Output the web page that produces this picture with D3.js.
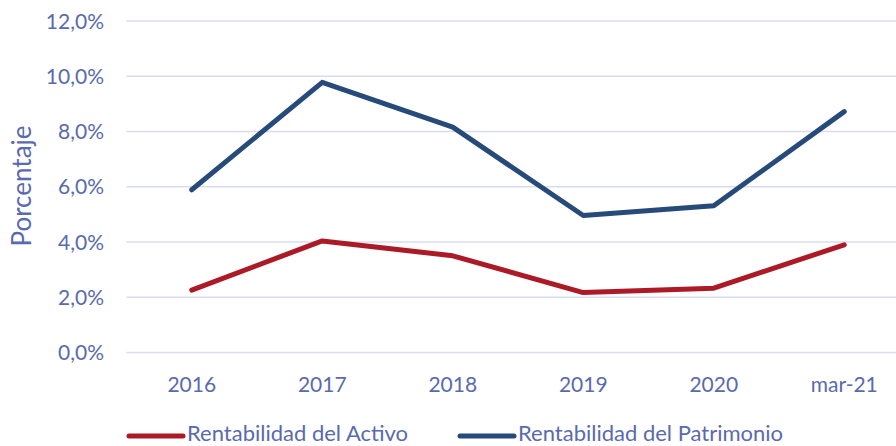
<!DOCTYPE html>
<html><head><meta charset="utf-8">
<script src="https://cdn.jsdelivr.net/npm/d3@7"></script>
<style>body{margin:0;background:#fff}svg{display:block}text{font-family:Lato,"Open Sans",sans-serif;fill:#5a6aae}</style>
</head><body><svg id="c" width="896" height="446"></svg>
<script>
const categories = ["2016","2017","2018","2019","2020","mar-21"];
const activo = [2.26, 4.04, 3.50, 2.17, 2.33, 3.90];
const patrimonio = [5.89, 9.78, 8.16, 4.96, 5.31, 8.72];
const yTicks = [0,2,4,6,8,10,12];
const seriesNames = ["Rentabilidad del Activo","Rentabilidad del Patrimonio"];
const colors = ["#ad1a27","#264a7a"];

const svg = d3.select("#c");
const x = d3.scaleBand().domain(categories).range([126.5, 909.5]);
const y = d3.scaleLinear().domain([0,12]).range([352.5, 21]);

const grid = svg.append("g");
grid.selectAll("line").data(yTicks).join("line")
  .attr("x1",126.5).attr("x2",909.5)
  .attr("y1",d=>y(d)).attr("y2",d=>y(d))
  .attr("stroke","#d9dcee").attr("stroke-width",1.5);

const fmt = d => d.toFixed(1).replace(".",",") + "%";
svg.append("g").selectAll("text").data(yTicks).join("text")
  .attr("x",104).attr("y",d=>y(d)+7.5).attr("text-anchor","end")
  .style("font-size","21px").text(fmt);

svg.append("g").selectAll("text").data(categories).join("text")
  .attr("x",d=>x(d)+x.bandwidth()/2).attr("y",391.5).attr("text-anchor","middle")
  .style("font-size","21px").text(d=>d);

svg.append("text").attr("transform","translate(30.5,186) rotate(-90)")
  .attr("text-anchor","middle").style("font-size","26px").text("Porcentaje");

const line = d3.line().x((d,i)=>x(categories[i])+x.bandwidth()/2).y(d=>y(d));
[activo, patrimonio].forEach((s,i)=>{
  svg.append("path").attr("d",line(s)).attr("fill","none")
    .attr("stroke",colors[i]).attr("stroke-width",5)
    .attr("stroke-linecap","round").attr("stroke-linejoin","round");
});

const legX = [127, 458];
seriesNames.forEach((n,i)=>{
  const g = svg.append("g").attr("transform",`translate(${legX[i]},436)`);
  g.append("line").attr("x1",2).attr("x2",56).attr("stroke",colors[i])
    .attr("stroke-width",5).attr("stroke-linecap","round");
  g.append("text").attr("x",60).attr("y",4.5).style("font-size","22px").text(n);
});
</script></body></html>
